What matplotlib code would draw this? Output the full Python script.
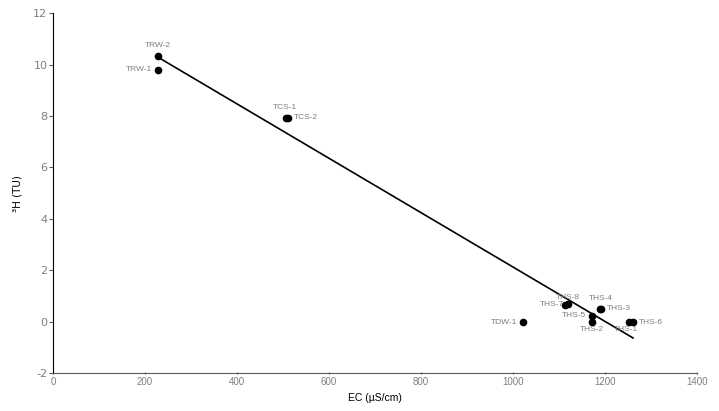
import numpy as np
import matplotlib
matplotlib.use("Agg")
import matplotlib.pyplot as plt

plt.rcParams["axes.unicode_minus"] = False

# sample data
names = ["TRW-2", "TRW-1", "TCS-1", "TCS-2", "TDW-1", "THS-8", "THS-7", "THS-4",
         "THS-3", "THS-5", "THS-2", "THS-6", "THS-1"]
ec = [228, 228, 507, 511, 1022, 1120, 1114, 1190, 1192, 1171, 1171, 1261, 1252]
h3 = [10.35, 9.8, 7.94, 7.94, -0.02, 0.68, 0.66, 0.5, 0.5, 0.23, -0.02, -0.02, -0.02]

# label offsets (points) and alignment
offsets = {
    "TRW-2": (0, 5, "center", "bottom"),
    "TRW-1": (-4, 0, "right", "center"),
    "TCS-1": (-1, 5, "center", "bottom"),
    "TCS-2": (4, 0, "left", "center"),
    "TDW-1": (-4, 0, "right", "center"),
    "THS-8": (0, 2, "center", "bottom"),
    "THS-7": (-1, 0, "right", "center"),
    "THS-4": (0, 5, "center", "bottom"),
    "THS-3": (4, 0, "left", "center"),
    "THS-5": (-4, 0, "right", "center"),
    "THS-2": (0, -3, "center", "top"),
    "THS-6": (4, 0, "left", "center"),
    "THS-1": (-2, -3, "center", "top"),
}

narrow = ["Liberation Sans Narrow", "Liberation Sans", "DejaVu Sans"]

fig = plt.figure(figsize=(7.19, 4.11), dpi=100)
ax = fig.add_axes([0.0737, 0.0925, 0.8957, 0.8755])

ax.plot(ec, h3, "o", color="black", markersize=4.5, zorder=3)

# linear trend line
p = np.polyfit(ec, h3, 1)
xl = np.array([min(ec), max(ec)])
ax.plot(xl, np.polyval(p, xl), color="black", lw=1.2)

for n, x, y in zip(names, ec, h3):
    dx, dy, ha, va = offsets[n]
    ax.annotate(n, (x, y), xytext=(dx, dy), textcoords="offset points",
                ha=ha, va=va, fontsize=6, color="#7f7f7f", family=narrow)

ax.set_xlim(0, 1400)
ax.set_ylim(-2, 12)
ax.set_xticks(range(0, 1401, 200))
ax.set_yticks(range(-2, 13, 2))
for s in ["top", "right"]:
    ax.spines[s].set_visible(False)
ax.spines["left"].set_color("black")
ax.spines["bottom"].set_color("#595959")
ax.tick_params(axis="y", labelsize=8, labelcolor="#7f7f7f", length=3, pad=1, color="#595959")
ax.tick_params(axis="x", labelsize=7, labelcolor="#7f7f7f", length=2, pad=2,
               direction="inout", color="#595959")
for t in ax.get_xticklabels():
    t.set_family(narrow)
ax.set_xlabel("EC (µS/cm)", fontsize=7.5, family=narrow)
ax.xaxis.set_label_coords(0.5, -0.055)
ax.set_ylabel("³H (TU)", fontsize=7.5)
ax.yaxis.set_label_coords(-0.047, 0.5)

fig.savefig("out.png", dpi=100)
